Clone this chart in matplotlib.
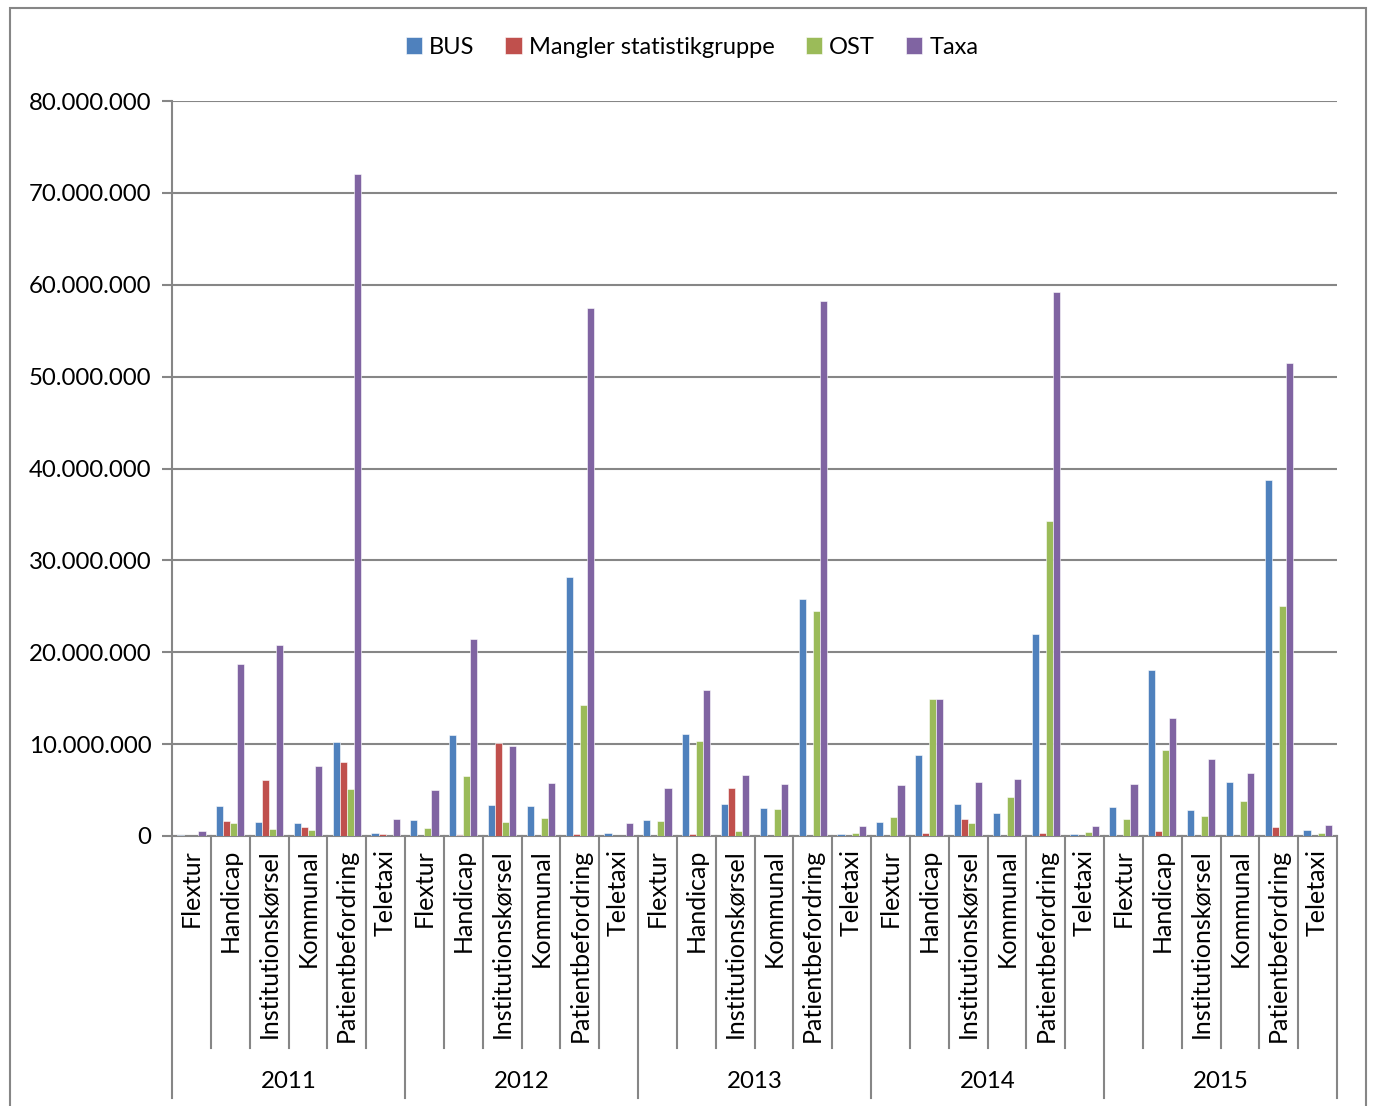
import numpy as np
import matplotlib.pyplot as plt
from matplotlib.patches import Rectangle
from matplotlib.ticker import FuncFormatter

plt.rcParams['font.family'] = ['Lato', 'DejaVu Sans']

years = ['2011', '2012', '2013', '2014', '2015']
categories = ['Flextur', 'Handicap', 'Institutionskørsel', 'Kommunal',
              'Patientbefordring', 'Teletaxi']
series = ['BUS', 'Mangler statistikgruppe', 'OST', 'Taxa']
colors = ['#4F81BD', '#C0504D', '#9BBB59', '#8064A2']

# values in millions, per year: Flextur, Handicap, Institution, Kommunal, Patient, Teletaxi
bus = [0.15, 3.26, 1.49, 1.38, 10.27, 0.33,
       1.70, 11.0, 3.37, 3.26, 28.2, 0.33,
       1.74, 11.06, 3.44, 3.0, 25.8, 0.2,
       1.52, 8.8, 3.44, 2.46, 22.0, 0.2,
       3.16, 18.03, 2.83, 5.84, 38.7, 0.62]
mangler = [0.0, 1.6, 6.13, 0.94, 8.05, 0.2,
           0.0, 0.15, 10.08, 0.0, 0.2, 0.0,
           0.0, 0.2, 5.22, 0.0, 0.05, 0.0,
           0.0, 0.36, 1.8, 0.0, 0.3, 0.0,
           0.0, 0.5, 0.0, 0.0, 0.94, 0.0]
ost = [0.0, 1.4, 0.76, 0.65, 5.07, 0.0,
       0.83, 6.53, 1.56, 1.92, 14.3, 0.05,
       1.6, 10.34, 0.5, 2.94, 24.5, 0.33,
       2.07, 14.87, 1.45, 4.24, 34.3, 0.4,
       1.85, 9.32, 2.18, 3.77, 25.0, 0.3]
taxa = [0.5, 18.75, 20.75, 7.6, 72.1, 1.8,
        4.97, 21.4, 9.8, 5.73, 57.45, 1.45,
        5.22, 15.85, 6.64, 5.66, 58.2, 1.05,
        5.5, 14.9, 5.84, 6.2, 59.2, 1.05,
        5.62, 12.8, 8.34, 6.85, 51.5, 1.23]

W, H = 1373, 1106
fig = plt.figure(figsize=(W / 100, H / 100), dpi=100)
x0, x1, y0, y1 = 172, 1337, 836, 101
ax = fig.add_axes([x0 / W, (H - y0) / H, (x1 - x0) / W, (y0 - y1) / H])

fig.add_artist(Rectangle((10 / W, -0.01), 1356 / W, (H - 8) / H + 0.01,
                         transform=fig.transFigure, fill=False,
                         edgecolor='#868686', linewidth=1.5))

n = len(years) * len(categories)
ind = np.arange(n)
width = 1 / 5.5
for i, (name, vals) in enumerate(zip(series, [bus, mangler, ost, taxa])):
    ax.bar(ind + 0.5 + (i - 1.5) * width, np.array(vals) * 1e6, width,
           color=colors[i], label=name, edgecolor='white', linewidth=0.4, zorder=3)

ax.set_xlim(0, n)
ax.set_ylim(0, 80e6)
ax.set_yticks(np.arange(0, 80e6 + 1, 10e6))
ax.yaxis.set_major_formatter(FuncFormatter(lambda v, p: f'{int(v):,}'.replace(',', '.')))
ax.grid(axis='y', color='#868686', linewidth=1.5, zorder=0)
for s in ['top', 'right']:
    ax.spines[s].set_visible(False)
for s in ['left', 'bottom']:
    ax.spines[s].set_color('#868686')
    ax.spines[s].set_linewidth(1.5)
ax.tick_params(axis='y', length=7, width=1.5, color='#868686', labelsize=17.3, pad=8)
ax.set_xticks([])

# multi-level category axis
h = y0 - y1
cat_depth = -(1048 - y0) / h
year_depth = -(1098 - y0) / h
for k in range(n + 1):
    depth = year_depth if k % len(categories) == 0 else cat_depth
    ax.plot([k, k], [0, depth], transform=ax.get_xaxis_transform(),
            color='#868686', linewidth=1.5, clip_on=False)
for k in range(n):
    ax.text(k + 0.5, -(849 - y0) / h, categories[k % len(categories)],
            transform=ax.get_xaxis_transform(), rotation=90,
            ha='center', va='top', fontsize=18)
for j, yr in enumerate(years):
    ax.text(j * len(categories) + len(categories) / 2, -(1081 - y0) / h, yr,
            transform=ax.get_xaxis_transform(), ha='center', va='center', fontsize=17.3)

fig.legend(loc='center', bbox_to_anchor=(692 / W, 1 - 47 / H), ncol=4, frameon=False,
           fontsize=17, handlelength=0.7, handleheight=0.7, handletextpad=0.3,
           columnspacing=1.3)

fig.savefig('out.png', dpi=100)
